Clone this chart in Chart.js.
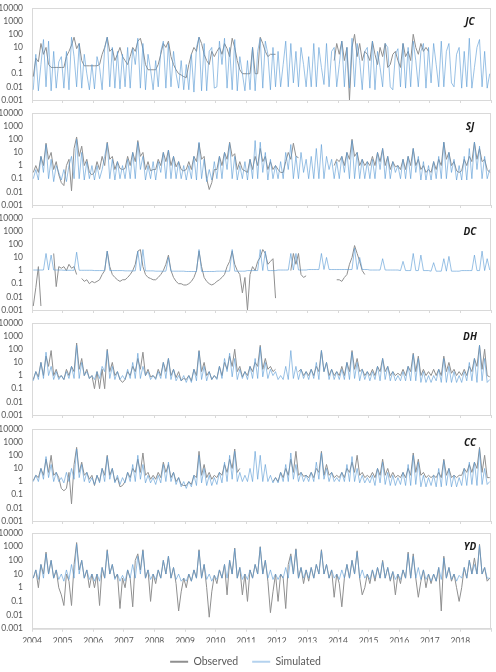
<!DOCTYPE html>
<html>
<head>
<meta charset="utf-8">
<script src="https://cdn.jsdelivr.net/npm/chart.js@4.4.1/dist/chart.umd.min.js"></script>
<style>
  html, body { margin: 0; padding: 0; background: #ffffff; overflow: hidden; }
  #wrap { position: relative; width: 496px; height: 672px; overflow: hidden; }
  canvas { position: absolute; left: 0; }
</style>
</head>
<body>
<div id="wrap"></div>
<script>
// monthly values, Jan 2004 - Dec 2018 (12 per row)
const jcObserved = [
  0.06, 1.5, 0.8, 20, 3, 10, 0.5, 0.3, 0.3, 0.3, 0.3, 0.3,
  0.3, 2, 5, 15, 60, 8, 20, 1, 0.4, 0.4, 0.4, 0.4,
  0.4, 0.4, 0.5, 3, 10, 60, 5, 8, 1, 3, 10, 2,
  1, 0.5, 2, 10, 5, 30, 50, 8, 0.5, 0.2, 0.2, 0.2,
  0.2, 0.5, 3, 20, 10, 30, 2, 0.5, 0.2, 0.1, 0.08, 0.06,
  0.05, 0.5, 3, 10, 5, 60, 20, 3, 1, 0.5, 5, 2,
  5, 10, 3, 20, 8, 2, 50, 10, 1, 0.2, 0.1, 0.1,
  0.1, 0.1, 10, 0.1, 0.1, 60, 20, 5, 2, 3, 3, 3,
  null, null, null, null, null, null, null, null, null, null, null, null,
  null, null, null, null, null, null, null, null, null, null, 1, 20,
  3, 30, 1, 10, 0.001, 10, 100, 2, 20, 1, 5, 3,
  1, 30, 3, 0.5, 10, 2, 20, 0.3, 0.5, 3, 5, 1,
  0.3, 20, 2, 5, 1, 100, 10, 3, 20, 5, 10, 5,
  null, null, null, null, null, null, null, null, null, null, null, null,
  null, null, null, null, null, null, null, null, null, null, null, null
];
const jcSimulated = [
  0.006, 3, 0.005, 0.5, 40, 0.01, 30, 0.005, 5, 0.008, 0.8, 2,
  0.008, 5, 0.006, 60, 2, 0.01, 20, 0.008, 3, 0.1, 0.006, 0.5,
  0.007, 2, 0.3, 0.006, 8, 60, 0.01, 10, 0.008, 5, 0.007, 3,
  0.01, 10, 0.008, 8, 0.5, 50, 0.008, 20, 0.006, 3, 0.2, 0.006,
  1, 0.01, 5, 30, 0.008, 20, 0.01, 5, 0.1, 0.008, 1, 0.006,
  0.5, 0.006, 3, 0.004, 10, 60, 0.005, 20, 0.005, 5, 10, 0.008,
  0.01, 30, 0.5, 50, 0.008, 10, 0.006, 40, 0.005, 2, 0.1, 0.005,
  1, 0.006, 10, 0.005, 5, 50, 0.008, 30, 3, 0.006, 10, 0.01,
  5, 0.01, 0.5, 30, 0.01, 20, 0.02, 5, 0.01, 10, 0.5, 0.01,
  2, 0.01, 20, 0.01, 10, 0.3, 0.015, 20, 0.01, 5, 10, 0.01,
  0.5, 30, 0.01, 10, 0.008, 50, 0.01, 20, 1, 0.006, 5, 10,
  0.008, 30, 0.006, 5, 0.3, 0.01, 20, 10, 0.01, 0.006, 3, 8,
  0.01, 20, 0.008, 10, 0.01, 30, 1, 0.01, 5, 20, 0.008, 10,
  0.02, 20, 0.5, 0.01, 30, 0.01, 5, 20, 0.02, 0.01, 3, 10,
  0.008, 5, 0.01, 50, 0.008, 0.3, 10, 40, 0.01, 5, 0.008, 0.1
];

const sjObserved = [
  0.3, 1, 0.3, 5, 1, 50, 3, 10, 0.5, 2, 0.2, 0.05,
  0.03, 1, 3, 0.012, 20, 150, 5, 30, 1, 3, 0.3, 0.2,
  0.3, 2, 0.5, 5, 1, 60, 3, 5, 0.5, 2, 0.6, 0.5,
  0.6, 5, 1, 10, 2, 80, 5, 10, 0.5, 2, 0.4, 0.5,
  0.5, 3, 1, 10, 2, 15, 1, 5, 0.8, 2, 0.5, 0.4,
  0.5, 2, 0.5, 5, 2, 50, 3, 5, 0.1, 0.015, 0.05, 0.5,
  0.5, 5, 1, 10, 3, 60, 5, 8, 0.5, 2, 0.5, 0.4,
  0.3, 3, 0.5, 5, 1, 20, 2, 5, 0.5, 2, 0.5, 1,
  0.5, 0.3, 0.3, 2, 10, 3, 50, 5, 4, null, null, null,
  null, null, null, null, null, null, null, null, null, null, 1, 3,
  2, 5, 1, 10, 3, 100, 5, 10, 1, 3, 1, 2,
  1, 5, 1, 10, 2, 20, 1, 5, 0.5, 2, 0.8, 1,
  0.5, 3, 0.5, 5, 1, 20, 1, 3, 0.5, 1, 0.3, 0.5,
  0.3, 2, 0.5, 3, 1, 60, 3, 10, 1, 2, 0.4, 0.3,
  0.4, 3, 1, 5, 2, 60, 3, 20, 2, 3, 0.5, 0.3
];
const sjSimulated = [
  0.1, 0.5, 0.08, 5, 0.3, 40, 0.1, 3, 0.06, 1, 0.3, 0.08,
  0.5, 0.06, 1, 5, 0.1, 100, 0.1, 10, 0.08, 2, 0.1, 1,
  0.08, 1, 0.1, 0.5, 5, 50, 0.1, 3, 0.08, 2, 0.1, 1,
  0.1, 3, 0.1, 10, 0.1, 60, 0.5, 5, 0.08, 1, 0.1, 2,
  0.08, 2, 0.3, 10, 0.1, 15, 0.1, 5, 0.1, 2, 0.1, 1,
  0.08, 1, 0.1, 5, 0.08, 60, 0.1, 3, 0.06, 0.5, 0.08, 2,
  0.1, 5, 0.1, 10, 0.5, 50, 0.1, 5, 0.08, 1, 0.1, 2,
  0.08, 3, 0.1, 80, 0.1, 60, 0.3, 10, 0.08, 3, 0.1, 1,
  0.1, 2, 0.1, 10, 0.5, 40, 0.1, 5, 0.1, 10, 0.3, 3,
  0.1, 5, 0.1, 20, 0.1, 40, 0.1, 5, 0.5, 3, 0.1, 2,
  0.1, 5, 0.3, 10, 0.1, 80, 0.1, 10, 0.1, 3, 0.1, 2,
  0.1, 3, 0.1, 10, 0.5, 20, 0.1, 5, 0.1, 2, 0.3, 1,
  0.1, 3, 0.1, 5, 0.1, 20, 0.3, 5, 0.08, 2, 0.08, 1,
  0.08, 2, 0.1, 5, 0.1, 60, 0.1, 10, 0.3, 3, 0.08, 1,
  0.08, 5, 0.08, 20, 0.1, 60, 0.5, 30, 0.1, 5, 0.1, 0.5
];

const dcObserved = [
  0.002, 0.05, 2, 0.002, null, null, null, null, 20, 0.06, 2, 1.5,
  2, 1, 3, 1.5, 2, 0.5, null, 0.25, 0.15, 0.2, 0.1, 0.15,
  0.12, 0.15, 0.2, 0.5, 1, 30, 2, 0.5, 0.3, 0.2, 0.15, 0.2,
  0.2, 0.3, 0.5, 1, 3, 30, 40, 2, 0.5, 0.3, 0.25, 0.2,
  0.2, 0.3, 0.5, 1, 3, 15, 1, 0.3, 0.15, 0.1, 0.1, 0.08,
  0.08, 0.1, 0.15, 0.3, 1, 30, 2, 0.3, 0.15, 0.1, 0.08, 0.1,
  0.15, 0.2, 0.3, 0.5, 2, 5, 30, 3, 1, 0.5, 0.02, 0.3,
  0.001, 0.5, 2, 1, 5, 10, 40, 20, 3, 5, 8, 0.008,
  null, null, null, null, null, 1, 20, 3, 20, 0.5, 0.3, 0.4,
  null, null, null, null, null, null, null, null, null, null, null, 0.2,
  0.2, 0.15, 0.3, 0.5, 3, 10, 80, 20, 5, 1, 0.5, null,
  null, null, null, null, null, null, null, null, null, null, null, null,
  null, null, null, null, null, null, null, null, null, null, null, null,
  null, null, null, null, null, null, null, null, null, null, null, null,
  null, null, null, null, null, null, null, null, null, null, null, null
];
const dcSimulated = [
  1.1, 1.1, 1.1, 1.1, 1.1, 20, 1.1, 15, 1.1, 1.1, 1.1, 1.1,
  1.05, 1.05, 1.05, 1.05, 1.05, 25, 1.05, 1.05, 1.05, 1.05, 1.05, 1.05,
  1, 1, 1, 1, 1, 30, 1, 1, 1, 1, 1, 1,
  0.95, 0.95, 0.95, 0.95, 0.95, 30, 0.95, 40, 0.95, 0.95, 0.95, 0.95,
  0.9, 0.9, 0.9, 0.9, 0.9, 10, 0.9, 0.9, 0.9, 0.9, 0.9, 0.9,
  0.85, 0.85, 0.85, 0.85, 0.85, 40, 0.85, 0.85, 0.85, 0.85, 0.85, 0.85,
  0.9, 0.9, 0.9, 0.9, 0.9, 0.9, 40, 0.9, 0.9, 0.9, 0.9, 0.9,
  1, 1, 1, 1, 1, 40, 1, 30, 1, 1, 1, 1,
  1.1, 1.1, 1.1, 1.1, 1.1, 20, 1.1, 20, 1.1, 1.1, 1.1, 1.1,
  1.2, 1.2, 1.2, 1.2, 1.2, 20, 1.2, 10, 1.2, 1.2, 1.2, 1.2,
  1.2, 1.2, 1.2, 1.2, 1.2, 1.2, 50, 1.2, 10, 1.2, 1.2, 1.2,
  1.1, 1.1, 1.1, 1.1, 1.1, 8, 1.1, 1.1, 1.1, 1.1, 1.1, 1.1,
  1, 5, 1, 1, 1, 20, 1, 1, 15, 1, 1, 1,
  0.9, 4, 0.9, 0.9, 0.9, 8, 0.9, 12, 0.9, 0.9, 0.9, 0.9,
  1, 1, 1, 1, 1, 15, 1, 1, 30, 1, 8, 1.1
];

const dhObserved = [
  0.5, 2, 0.8, 10, 1, 30, 5, 80, 1, 3, 0.7, 1,
  0.5, 3, 1, 5, 2, 300, 3, 20, 1, 3, 0.6, 1,
  0.1, 2, 0.1, 3, 0.1, 100, 2, 10, 1, 2, 0.5, 0.3,
  0.5, 2, 1, 5, 2, 20, 3, 60, 1, 3, 0.8, 1,
  0.6, 3, 1, 10, 2, 20, 1, 3, 0.7, 2, 0.4, 0.6,
  0.5, 1, 0.4, 3, 1, 80, 2, 10, 1, 2, 0.5, 1,
  0.6, 5, 1, 10, 3, 30, 5, 100, 2, 5, 0.8, 2,
  1, 5, 2, 10, 5, 200, 3, 20, 3, 5, 2, 3,
  null, null, null, null, null, null, null, null, 2, 3, 1, 2,
  1, 3, 1, 5, 2, 80, 2, 10, 1, 3, 1, 2,
  1, 5, 1, 10, 2, 80, 3, 20, 2, 3, 1, 2,
  1, 3, 1, 5, 2, 20, 2, 5, 1, 2, 1, 1.5,
  1, 3, 1, 5, 2, 50, 2, 30, 1, 3, 1, 2,
  1, 3, 1, 3, 1, 30, 2, 10, 1.5, 3, 1, 2,
  1, 3, 1, 5, 2, 20, 5, 200, 3, 100, 1, 0.8
];
const dhSimulated = [
  0.4, 2, 0.5, 10, 0.6, 60, 1, 5, 0.5, 2, 0.5, 1,
  0.5, 2, 0.6, 5, 0.6, 200, 0.6, 10, 1, 2, 0.6, 1,
  0.5, 2, 0.6, 5, 2, 80, 0.6, 5, 0.5, 2, 0.5, 1,
  0.5, 3, 0.6, 10, 0.6, 50, 0.6, 5, 1, 2, 0.5, 1,
  0.5, 2, 0.6, 10, 0.6, 20, 0.5, 3, 0.4, 1, 0.4, 1,
  0.3, 1, 0.3, 3, 0.4, 70, 0.5, 5, 0.4, 2, 0.5, 1,
  0.5, 5, 0.6, 20, 2, 50, 0.8, 20, 0.5, 3, 0.6, 2,
  0.5, 5, 0.6, 20, 0.6, 150, 0.8, 10, 0.6, 3, 1, 2,
  0.5, 1, 0.5, 5, 0.5, 80, 0.6, 5, 0.5, 3, 0.6, 2,
  0.5, 3, 0.6, 10, 0.5, 80, 2, 10, 0.5, 3, 0.5, 2,
  0.5, 3, 0.5, 10, 0.5, 60, 0.6, 10, 0.4, 3, 0.5, 2,
  0.4, 2, 0.5, 5, 0.4, 20, 0.5, 5, 0.4, 2, 0.4, 1,
  0.4, 2, 0.4, 5, 0.4, 40, 0.4, 20, 0.3, 2, 0.3, 1,
  0.3, 1, 0.4, 3, 0.3, 20, 0.3, 5, 0.3, 2, 0.3, 1,
  0.3, 2, 0.4, 10, 0.4, 20, 0.3, 200, 0.4, 20, 0.3, 0.5
];

const ccObserved = [
  1.2, 3, 2, 10, 3, 50, 5, 100, 3, 5, 2, 0.3,
  0.2, 0.3, 5, 0.02, 20, 400, 5, 30, 3, 5, 1.5, 3,
  0.5, 3, 1, 10, 3, 100, 3, 10, 1, 2, 0.4, 0.5,
  1, 5, 2, 10, 5, 50, 5, 150, 3, 5, 1.5, 3,
  1.5, 5, 2, 30, 5, 20, 2, 5, 1, 2, 0.6, 0.5,
  0.5, 1, 0.6, 3, 2, 200, 3, 20, 2, 5, 1.5, 3,
  2, 5, 3, 20, 5, 50, 10, 300, 5, 10, null, null,
  null, null, null, null, null, null, null, null, null, null, 1, 2,
  1, 5, 2, 10, 3, 50, 5, 200, 3, 5, 2.5, 3,
  2, 5, 2, 10, 5, 200, 3, 20, 3, 5, 2, 3,
  2, 5, 2, 10, 5, 30, 5, 100, 3, 5, 2, 3,
  2, 5, 2, 10, 3, 50, 3, 10, 2, 5, 2, 3,
  2, 5, 2, 10, 3, 150, 5, 50, 3, 5, 2, 3,
  2, 3, 2, 5, 2, 50, 3, 10, 2, 3, 2, 3,
  3, 10, 5, 20, 5, 30, 10, 400, 5, 100, 2, 2
];
const ccSimulated = [
  1, 3, 1, 10, 1.5, 80, 2, 20, 1, 5, 1, 2,
  0.8, 5, 1, 10, 1.5, 300, 2, 20, 1, 5, 0.8, 2,
  0.6, 3, 0.8, 10, 1, 80, 1.5, 10, 0.8, 3, 0.6, 2,
  0.8, 5, 1, 20, 1, 100, 1.5, 20, 0.8, 3, 0.8, 2,
  0.6, 3, 0.8, 20, 1, 30, 1, 5, 0.6, 2, 0.4, 1,
  0.3, 1, 0.4, 3, 0.5, 100, 0.8, 10, 0.5, 3, 0.5, 2,
  0.6, 5, 0.8, 30, 1, 100, 1.5, 200, 1, 5, 1, 3,
  1, 10, 1, 200, 1.5, 100, 1, 20, 1, 3, 0.8, 2,
  0.8, 5, 1, 20, 1, 150, 1.5, 20, 1, 5, 1, 3,
  1, 5, 1, 30, 1.5, 150, 1.5, 10, 1, 5, 1, 2,
  1, 5, 1, 20, 1, 80, 1, 10, 0.8, 3, 0.8, 2,
  0.8, 3, 0.5, 10, 0.8, 30, 0.6, 5, 0.5, 3, 0.5, 2,
  0.6, 5, 0.5, 20, 0.5, 100, 0.6, 30, 0.4, 3, 0.4, 2,
  0.5, 3, 0.4, 10, 0.4, 40, 0.5, 10, 0.4, 3, 0.4, 2,
  0.5, 10, 0.5, 30, 0.6, 30, 0.5, 300, 0.6, 10, 0.6, 1
];

const ydObserved = [
  5, 20, 1, 50, 10, 400, 10, 100, 5, 20, 1, 0.3,
  0.05, 10, 3, 0.05, 50, 2000, 20, 100, 5, 20, 1, 10,
  1, 10, 0.05, 30, 5, 600, 10, 50, 5, 10, 0.03, 5,
  1, 20, 5, 0.04, 100, 300, 20, 600, 5, 20, 0.1, 10,
  2, 20, 5, 100, 10, 200, 5, 30, 2, 0.02, 0.5, 5,
  1, 10, 3, 20, 5, 600, 5, 50, 1, 0.007, 0.5, 8,
  2, 20, 5, 50, 0.3, 100, 10, 800, 5, 30, 0.3, 10,
  0.1, 20, 5, 50, 10, 1000, 10, 100, 3, 0.015, 0.5, 10,
  0.1, 10, 5, 0.03, 50, 300, 10, 700, 5, 30, 2, 20,
  3, 30, 5, 50, 10, 600, 10, 50, 5, 20, 0.2, 10,
  2, 0.04, 5, 50, 5, 100, 10, 500, 5, 0.3, 1, 10,
  2, 20, 3, 30, 5, 100, 5, 30, 3, 15, 0.3, 10,
  2, 20, 5, 400, 5, 300, 5, 0.2, 3, 20, 1, 10,
  2, 10, 3, 30, 0.02, 200, 5, 30, 3, 10, 1, 0.1,
  1, 30, 5, 100, 10, 150, 10, 1500, 10, 30, 3, 5
];
const ydSimulated = [
  5, 20, 4, 50, 5, 300, 10, 100, 5, 20, 4, 10,
  3, 20, 4, 50, 5, 1500, 10, 100, 5, 20, 4, 10,
  3, 10, 3, 30, 5, 500, 10, 50, 4, 10, 3, 8,
  3, 20, 5, 50, 5, 200, 10, 500, 5, 20, 4, 10,
  4, 20, 5, 100, 10, 200, 5, 30, 4, 10, 3, 5,
  3, 10, 3, 20, 5, 500, 5, 50, 4, 10, 3, 8,
  4, 20, 5, 50, 5, 100, 10, 700, 5, 30, 4, 10,
  4, 20, 5, 50, 10, 900, 10, 100, 5, 20, 4, 10,
  4, 10, 5, 30, 5, 200, 10, 600, 5, 30, 5, 20,
  5, 30, 5, 50, 10, 500, 10, 50, 5, 20, 5, 10,
  4, 20, 5, 50, 5, 100, 10, 400, 5, 20, 5, 10,
  4, 20, 5, 30, 5, 80, 5, 30, 4, 15, 4, 10,
  4, 20, 5, 300, 5, 200, 5, 30, 4, 20, 4, 10,
  3, 10, 3, 30, 4, 150, 5, 30, 4, 10, 3, 8,
  5, 30, 5, 100, 10, 50, 10, 1200, 10, 30, 5, 5
];

const stations = ["JC", "SJ", "DC", "DH", "CC", "YD"];
const observedSeries = [jcObserved, sjObserved, dcObserved, dhObserved, ccObserved, ydObserved];
const simulatedSeries = [jcSimulated, sjSimulated, dcSimulated, dhSimulated, ccSimulated, ydSimulated];
const yTicks = [0.001, 0.01, 0.1, 1, 10, 100, 1000, 10000];
const firstYear = 2004;
const lastYear = 2019;

// mid-month positions in decimal years
const monthX = observedSeries[0].map((v, i) => firstYear + (i + 0.5) / 12);
const toPoints = values => values.map((v, i) => ({ x: monthX[i], y: v }));

// top of each plot box on the page; every box is 92px tall
const plotTops = [8, 113, 218, 323, 429, 533];
const PAD_TOP = 16;
const tickFont = { family: "Lato", size: 8.5 };

const panelBox = {
    id: "panelBox",
    beforeDatasetsDraw(chart) {
        const a = chart.chartArea;
        const ctx = chart.ctx;
        ctx.save();
        ctx.strokeStyle = "#d9d9d9";
        ctx.lineWidth = 1;
        ctx.strokeRect(a.left + 0.5, a.top + 0.5, a.right - a.left - 1, a.bottom - a.top);
        ctx.restore();
    },
    afterDatasetsDraw(chart, args, opts) {
        const a = chart.chartArea;
        const ctx = chart.ctx;
        ctx.save();
        ctx.font = "italic bold 10px 'Open Sans'";
        ctx.fillStyle = "#1a1a1a";
        ctx.textAlign = "center";
        ctx.textBaseline = "middle";
        ctx.fillText(opts.label, a.right - 21, a.top + 14.5);
        ctx.restore();
    }
};

const wrap = document.getElementById("wrap");

stations.forEach((name, idx) => {
    const last = idx === stations.length - 1;
    const canvas = document.createElement("canvas");
    canvas.width = 496;
    canvas.height = last ? 160 : PAD_TOP + 92 + 20;
    canvas.style.top = (plotTops[idx] - PAD_TOP) + "px";
    wrap.appendChild(canvas);

    new Chart(canvas.getContext("2d"), {
        type: "line",
        data: {
            datasets: [
                {
                    label: "Observed",
                    data: toPoints(observedSeries[idx]),
                    borderColor: "#8f8f8f",
                    backgroundColor: "#8f8f8f",
                    borderWidth: 1,
                    pointRadius: 0,
                    tension: 0,
                    order: 2
                },
                {
                    label: "Simulated",
                    data: toPoints(simulatedSeries[idx]),
                    borderColor: "rgba(91,155,213,0.62)",
                    backgroundColor: "#b4d2ee",
                    borderWidth: 1,
                    pointRadius: 0,
                    tension: 0,
                    order: 1
                }
            ]
        },
        options: {
            responsive: false,
            animation: false,
            events: [],
            layout: { padding: { top: PAD_TOP, right: 5, left: 0, bottom: last ? 0 : 16 } },
            scales: {
                x: {
                    type: "linear",
                    min: firstYear,
                    max: lastYear,
                    afterFit: axis => { axis.height = last ? 13.75 : 4; },
                    grid: { drawOnChartArea: false, drawTicks: true, tickLength: 3, color: "#d9d9d9" },
                    border: { display: true, color: "#d9d9d9" },
                    ticks: {
                        display: last,
                        stepSize: 1,
                        autoSkip: false,
                        maxRotation: 0,
                        padding: 4,
                        color: "#595959",
                        font: tickFont,
                        callback: v => (v < lastYear ? String(v) : "")
                    }
                },
                y: {
                    type: "logarithmic",
                    min: 0.001,
                    max: 10000,
                    afterFit: axis => { axis.width = 32; },
                    afterBuildTicks: axis => { axis.ticks = yTicks.map(v => ({ value: v })); },
                    grid: { display: false, drawTicks: false },
                    border: { display: false },
                    ticks: {
                        padding: 9,
                        autoSkip: false,
                        color: "#595959",
                        font: tickFont,
                        callback: v => String(v)
                    }
                }
            },
            plugins: {
                tooltip: { enabled: false },
                panelBox: { label: name },
                legend: {
                    display: last,
                    position: "bottom",
                    labels: {
                        boxWidth: 18,
                        boxHeight: 2,
                        padding: 14,
                        color: "#595959",
                        font: { family: "Lato", size: 10.5 },
                        sort: (a, b) => a.datasetIndex - b.datasetIndex,
                        generateLabels: chart =>
                            Chart.defaults.plugins.legend.labels.generateLabels(chart)
                                .map(item => Object.assign(item, { lineWidth: 0 }))
                    }
                }
            }
        },
        plugins: [panelBox]
    });
});
</script>
</body>
</html>
